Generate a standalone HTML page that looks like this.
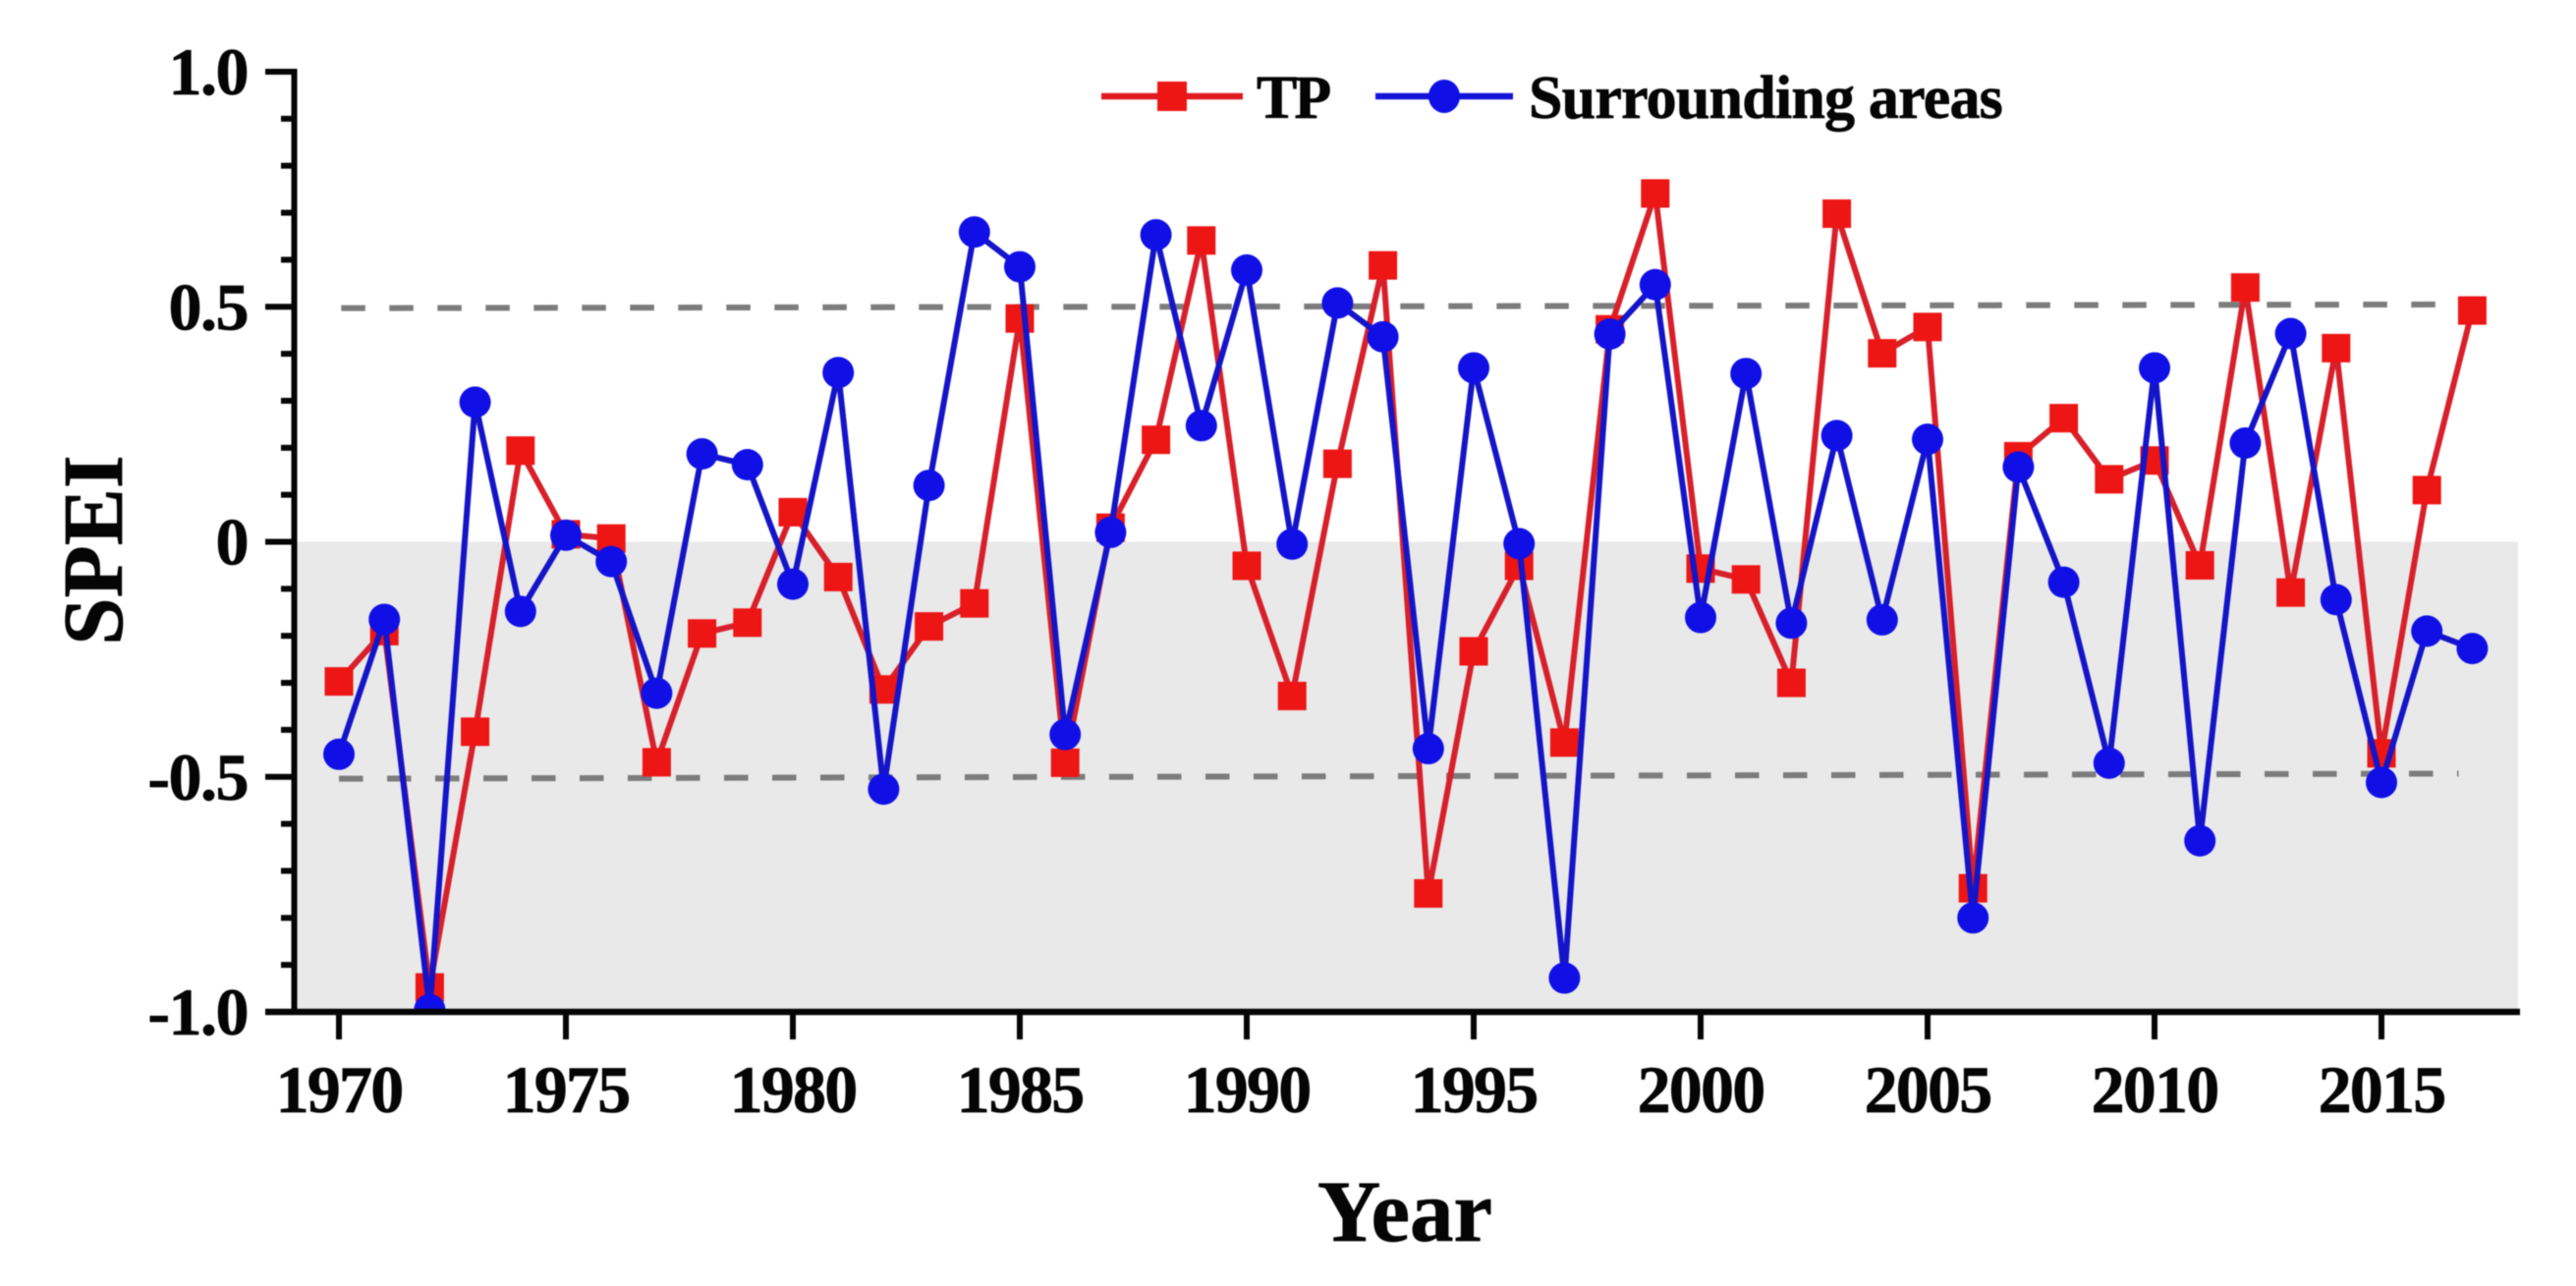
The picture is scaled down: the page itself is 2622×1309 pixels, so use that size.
<!DOCTYPE html>
<html lang="en">
<head>
<meta charset="utf-8">
<title>SPEI 1970-2017</title>
<style>
html,body{margin:0;padding:0;background:#fff;}
body{width:2622px;height:1309px;overflow:hidden;}
svg{display:block;filter:blur(0.6px);}
text{font-family:"Liberation Serif",serif;font-weight:bold;fill:#050505;stroke:#050505;stroke-width:0.7px;}
</style>
</head>
<body>
<svg id="chart" xmlns="http://www.w3.org/2000/svg" width="2622" height="1309" viewBox="0 0 2622 1309">
  <defs><clipPath id="plot-clip"><rect x="299" y="60" width="2270" height="970"/></clipPath></defs>
  <rect id="shade" fill="#e9e9e9"/>
  <g id="refs"></g>
  <g id="series" clip-path="url(#plot-clip)"></g>
  <g id="axes"></g>
  <text transform="translate(124,560) rotate(-90)" text-anchor="middle" font-size="87">SPEI</text>
  <text x="1430" y="1263" text-anchor="middle" font-size="89">Year</text>
  <g>
    <g>
      <line x1="1121" x2="1265" y1="98" y2="98" stroke="#e01a20" stroke-width="6.5"/>
      <rect x="1178" y="83" width="30" height="30" fill="#ee1515"/>
      <text x="1279" y="120" font-size="62" letter-spacing="-3">TP</text>
    </g>
    <g>
      <line x1="1400" x2="1540" y1="98" y2="98" stroke="#1414d8" stroke-width="6.5"/>
      <ellipse cx="1470" cy="98" rx="16" ry="17" fill="#1010e6"/>
      <text x="1556" y="120" font-size="62" letter-spacing="-0.8">Surrounding areas</text>
    </g>
  </g>
</svg>
<script>
const years = [1970,1971,1972,1973,1974,1975,1976,1977,1978,1979,1980,1981,1982,1983,1984,1985,1986,1987,1988,1989,1990,1991,1992,1993,1994,1995,1996,1997,1998,1999,2000,2001,2002,2003,2004,2005,2006,2007,2008,2009,2010,2011,2012,2013,2014,2015,2016,2017];
const tpValues = [-0.297,-0.19,-0.948,-0.404,0.194,0.016,0.007,-0.469,-0.195,-0.172,0.063,-0.075,-0.314,-0.18,-0.131,0.475,-0.47,0.03,0.217,0.641,-0.051,-0.328,0.166,0.588,-0.748,-0.233,-0.051,-0.427,0.452,0.741,-0.057,-0.08,-0.30,0.698,0.401,0.457,-0.737,0.182,0.263,0.133,0.173,-0.05,0.541,-0.108,0.412,-0.45,0.11,0.492];
const surroundingValues = [-0.452,-0.165,-0.995,0.297,-0.148,0.014,-0.042,-0.322,0.187,0.164,-0.09,0.36,-0.526,0.12,0.659,0.585,-0.41,0.02,0.653,0.247,0.578,-0.005,0.508,0.436,-0.44,0.37,-0.004,-0.928,0.442,0.547,-0.161,0.358,-0.173,0.226,-0.166,0.218,-0.80,0.159,-0.086,-0.471,0.37,-0.636,0.21,0.443,-0.123,-0.512,-0.19,-0.227];
const xTickLabels = [1970,1975,1980,1985,1990,1995,2000,2005,2010,2015];
const yMajorTicks = [1,0.5,0,-0.5,-1];
const yMajorLabels = ["1.0","0.5","0","-0.5","-1.0"];
const yMinorTicks = [0.9,0.8,0.7,0.6,0.4,0.3,0.2,0.1,-0.1,-0.2,-0.3,-0.4,-0.6,-0.7,-0.8,-0.9];
const upperRefYears = [1970.05,2016.7];
const upperRefValues = [0.497,0.505];
const lowerRefYears = [1970,2016.7];
const lowerRefValues = [-0.504,-0.493];

const NS = "http://www.w3.org/2000/svg";
const xScale = y => 345 + (y - 1970) * 46.2;
const yScale = v => 551.5 - v * 478.5;

function mk(parent, tag, attrs, txt){
  const el = document.createElementNS(NS, tag);
  for (const k in attrs) el.setAttribute(k, attrs[k]);
  if (txt !== undefined) el.textContent = txt;
  parent.appendChild(el);
  return el;
}

const shade = document.getElementById('shade');
shade.setAttribute('x', 299);
shade.setAttribute('y', yScale(0));
shade.setAttribute('width', 2563 - 299);
shade.setAttribute('height', yScale(-1) - yScale(0));

const refs = document.getElementById('refs');
const refUpper = mk(refs, 'line', {x1:xScale(upperRefYears[0]),x2:xScale(upperRefYears[1]),y1:yScale(upperRefValues[0]),y2:yScale(upperRefValues[1]),stroke:'#7c7c7c','stroke-width':6,'stroke-dasharray':'24.5 24.5'});


const refLower = mk(refs, 'line', {x1:xScale(lowerRefYears[0]),x2:xScale(lowerRefYears[1]),y1:yScale(lowerRefValues[0]),y2:yScale(lowerRefValues[1]),stroke:'#7c7c7c','stroke-width':6,'stroke-dasharray':'24.5 24.5'});



const series = document.getElementById('series');
const tpLine = mk(series, 'polyline', {points:years.map((y,i)=>xScale(y)+','+yScale(tpValues[i])).join(' '),fill:'none',stroke:'#d8202a','stroke-width':6,'stroke-linejoin':'bevel'});


years.forEach((y,i)=>{
  const m = mk(series, 'rect', {x:xScale(y)-14.5,y:yScale(tpValues[i])-14.5,width:29,height:29,fill:'#ee1515'});
  
  
});
const blueLine = mk(series, 'polyline', {points:years.map((y,i)=>xScale(y)+','+yScale(surroundingValues[i])).join(' '),fill:'none',stroke:'#1414c8','stroke-width':6,'stroke-linejoin':'bevel'});


years.forEach((y,i)=>{
  const m = mk(series, 'ellipse', {cx:xScale(y),cy:yScale(surroundingValues[i]),rx:16,ry:16,fill:'#1010e6'});
  
  
});

const axes = document.getElementById('axes');
const yAxisLine = mk(axes, 'line', {x1:299.5,x2:299.5,y1:yScale(1)-3,y2:yScale(-1)+2,stroke:'#050505','stroke-width':6});


const xAxisLine = mk(axes, 'line', {x1:270,x2:2565,y1:yScale(-1),y2:yScale(-1),stroke:'#050505','stroke-width':6.5});


yMajorTicks.forEach((v,i)=>{
  const t = mk(axes, 'line', {x1:270,x2:299,y1:yScale(v),y2:yScale(v),stroke:'#050505','stroke-width':6});
  
  
  const l = mk(axes, 'text', {x:252,y:yScale(v)+23,'text-anchor':'end','font-size':68,'letter-spacing':-1.5}, yMajorLabels[i]);
  
  
});
yMinorTicks.forEach(v=>{
  const t = mk(axes, 'line', {x1:286,x2:299,y1:yScale(v),y2:yScale(v),stroke:'#050505','stroke-width':6});
  
  
});
xTickLabels.forEach(y=>{
  const t = mk(axes, 'line', {x1:xScale(y),x2:xScale(y),y1:yScale(-1),y2:1058,stroke:'#050505','stroke-width':6});
  
  
  const l = mk(axes, 'text', {x:xScale(y),y:1132,'text-anchor':'middle','font-size':68,'letter-spacing':-1.8}, String(y));
  
  
});
</script>
</body>
</html>
